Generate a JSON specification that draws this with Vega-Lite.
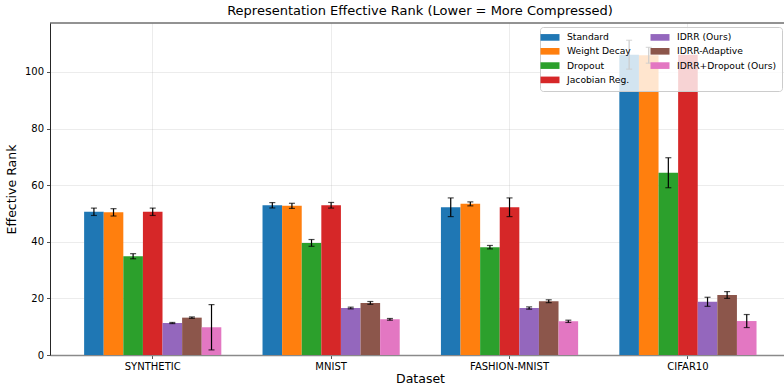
{
  "$schema": "https://vega.github.io/schema/vega-lite/v6.json",
  "width": 734,
  "height": 332,
  "autosize": {"type": "none"},
  "padding": {"left": 50, "top": 23, "right": 0, "bottom": 30},
  "title": {"text": "Representation Effective Rank (Lower = More Compressed)", "fontSize": 13, "font": "DejaVu Sans", "fontWeight": "normal", "color": "black", "offset": 5, "dx": 3},
  "data": {"values": [
    {"dataset": "SYNTHETIC", "method": "Standard", "value": 50.6, "err": 1.3},
    {"dataset": "SYNTHETIC", "method": "Weight Decay", "value": 50.4, "err": 1.3},
    {"dataset": "SYNTHETIC", "method": "Dropout", "value": 34.9, "err": 0.9},
    {"dataset": "SYNTHETIC", "method": "Jacobian Reg.", "value": 50.6, "err": 1.3},
    {"dataset": "SYNTHETIC", "method": "IDRR (Ours)", "value": 11.3, "err": 0.2},
    {"dataset": "SYNTHETIC", "method": "IDRR-Adaptive", "value": 13.2, "err": 0.25},
    {"dataset": "SYNTHETIC", "method": "IDRR+Dropout (Ours)", "value": 9.8, "err": 8.0},
    {"dataset": "MNIST", "method": "Standard", "value": 52.9, "err": 0.95},
    {"dataset": "MNIST", "method": "Weight Decay", "value": 52.7, "err": 0.9},
    {"dataset": "MNIST", "method": "Dropout", "value": 39.6, "err": 1.2},
    {"dataset": "MNIST", "method": "Jacobian Reg.", "value": 52.9, "err": 1.0},
    {"dataset": "MNIST", "method": "IDRR (Ours)", "value": 16.6, "err": 0.3},
    {"dataset": "MNIST", "method": "IDRR-Adaptive", "value": 18.4, "err": 0.5},
    {"dataset": "MNIST", "method": "IDRR+Dropout (Ours)", "value": 12.6, "err": 0.3},
    {"dataset": "FASHION-MNIST", "method": "Standard", "value": 52.2, "err": 3.3},
    {"dataset": "FASHION-MNIST", "method": "Weight Decay", "value": 53.4, "err": 0.7},
    {"dataset": "FASHION-MNIST", "method": "Dropout", "value": 38.1, "err": 0.6},
    {"dataset": "FASHION-MNIST", "method": "Jacobian Reg.", "value": 52.2, "err": 3.3},
    {"dataset": "FASHION-MNIST", "method": "IDRR (Ours)", "value": 16.6, "err": 0.4},
    {"dataset": "FASHION-MNIST", "method": "IDRR-Adaptive", "value": 19.0, "err": 0.5},
    {"dataset": "FASHION-MNIST", "method": "IDRR+Dropout (Ours)", "value": 11.9, "err": 0.4},
    {"dataset": "CIFAR10", "method": "Standard", "value": 106.1, "err": 5.1},
    {"dataset": "CIFAR10", "method": "Weight Decay", "value": 105.9, "err": 2.8},
    {"dataset": "CIFAR10", "method": "Dropout", "value": 64.4, "err": 5.3},
    {"dataset": "CIFAR10", "method": "Jacobian Reg.", "value": 106.1, "err": 0},
    {"dataset": "CIFAR10", "method": "IDRR (Ours)", "value": 18.8, "err": 1.6},
    {"dataset": "CIFAR10", "method": "IDRR-Adaptive", "value": 21.2, "err": 1.2},
    {"dataset": "CIFAR10", "method": "IDRR+Dropout (Ours)", "value": 12.0, "err": 2.3}
  ]},
  "layer": [
    {
      "mark": {"type": "bar"},
      "encoding": {
        "x": {"field": "dataset", "type": "nominal", "sort": ["SYNTHETIC", "MNIST", "FASHION-MNIST", "CIFAR10"],
          "scale": {"paddingInner": 0.231, "paddingOuter": 0.1726, "align": 0.554},
          "axis": {"title": "Dataset", "labelAngle": 0, "bandPosition": 0.5, "titleX": 370, "titlePadding": 1}},
        "xOffset": {"field": "method", "type": "nominal",
          "sort": ["Standard", "Weight Decay", "Dropout", "Jacobian Reg.", "IDRR (Ours)", "IDRR-Adaptive", "IDRR+Dropout (Ours)"],
          "scale": {"paddingInner": 0, "paddingOuter": 0}},
        "y": {"field": "value", "type": "quantitative", "scale": {"domain": [0, 117.3], "nice": false},
          "axis": {"title": "Effective Rank", "values": [0, 20, 40, 60, 80, 100], "titlePadding": 6, "domainColor": "#262626", "domainWidth": 1}},
        "color": {"field": "method", "type": "nominal",
          "scale": {"domain": ["Standard", "Weight Decay", "Dropout", "Jacobian Reg.", "IDRR (Ours)", "IDRR-Adaptive", "IDRR+Dropout (Ours)"],
            "range": ["#1f77b4", "#ff7f0e", "#2ca02c", "#d62728", "#9467bd", "#8c564b", "#e377c2"]},
          "legend": {"title": null}}
      }
    },
    {
      "transform": [{"filter": "datum.err > 0"}],
      "mark": {"type": "errorbar", "ticks": {"size": 6, "thickness": 1.2, "color": "black"}, "rule": {"strokeWidth": 1.2, "color": "black"}},
      "encoding": {
        "x": {"field": "dataset", "type": "nominal", "sort": ["SYNTHETIC", "MNIST", "FASHION-MNIST", "CIFAR10"]},
        "xOffset": {"field": "method", "type": "nominal",
          "sort": ["Standard", "Weight Decay", "Dropout", "Jacobian Reg.", "IDRR (Ours)", "IDRR-Adaptive", "IDRR+Dropout (Ours)"]},
        "y": {"field": "value", "type": "quantitative", "title": "Effective Rank"},
        "yError": {"field": "err"}
      }
    },
    {
      "data": {"values": [{"top": 117.3}]},
      "mark": {"type": "rule", "color": "#262626", "strokeWidth": 1},
      "encoding": {"y": {"field": "top", "type": "quantitative", "title": "Effective Rank"}}
    }
  ],
  "config": {
    "view": {"stroke": null},
    "font": "DejaVu Sans",
    "axis": {
      "labelFont": "DejaVu Sans", "labelFontSize": 10, "labelColor": "black",
      "titleFont": "DejaVu Sans", "titleFontSize": 12.5, "titleFontWeight": "normal", "titleColor": "black",
      "grid": true, "gridColor": "#b0b0b0", "gridOpacity": 0.3, "gridWidth": 0.8,
      "tickSize": 3.5, "tickColor": "#262626", "tickWidth": 0.8, "labelPadding": 3, "zindex": 1
    },
    "axisX": {"domainColor": "#8a8a8a", "domainWidth": 1.6},
    "legend": {
      "orient": "none", "legendX": 490, "legendY": 4, "columns": 2, "columnPadding": 19, "rowPadding": 3.3,
      "symbolType": "M-2,-0.7H2V0.7H-2Z", "symbolSize": 90.25, "symbolStrokeWidth": 0, "symbolOpacity": 1,
      "labelFont": "DejaVu Sans", "labelFontSize": 9.2, "labelColor": "black", "labelOffset": 12,
      "fillColor": "rgba(255,255,255,0.8)", "strokeColor": "#cccccc", "cornerRadius": 3, "padding": 5
    }
  }
}
